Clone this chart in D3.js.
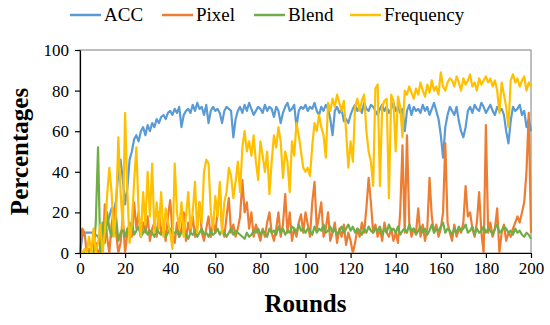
<!DOCTYPE html>
<html>
<head>
<meta charset="utf-8">
<script src="https://cdn.jsdelivr.net/npm/d3@7"></script>
<style>
  body { margin: 0; background: #fff; }
</style>
</head>
<body>
<svg id="chart"></svg>
<script>
const width = 550,
  height = 325;

// values, one per round (0..200)
const acc = [
  0, 8, 10, 10, 10, 10, 10, 9, 8, 9,
  10, 12, 14, 18, 22, 20, 26, 40, 46, 36,
  24, 32, 46, 50, 56, 58, 55, 60, 62, 58,
  63, 60, 64, 62, 66, 64, 67, 68, 66, 69,
  70, 68, 71, 69, 72, 62, 68, 70, 71, 69,
  73, 70, 74, 71, 72, 68, 73, 64, 70, 72,
  70, 71, 69, 64, 70, 72, 71, 70, 57, 66,
  70, 72, 69, 73, 70, 74, 71, 68, 70, 72,
  71, 69, 73, 70, 72, 71, 67, 72, 70, 64,
  69, 72, 74, 70, 71, 73, 62, 70, 72, 71,
  73, 70, 72, 71, 74, 70, 68, 72, 70, 73,
  71, 66, 58, 70, 72, 69, 71, 65, 66, 64,
  68, 71, 73, 70, 72, 69, 74, 71, 70, 73,
  72, 70, 68, 71, 73, 70, 72, 69, 71, 74,
  70, 72, 69, 71, 60, 70, 73, 68, 72, 70,
  71, 69, 73, 70, 72, 68, 71, 74, 70, 66,
  58, 47, 62, 68, 72, 70, 68, 72, 65, 60,
  57, 62, 70, 72, 69, 73, 71, 70, 74, 72,
  69, 71, 73, 70, 68, 72, 70, 71, 68, 60,
  54, 65, 72, 70, 71, 73, 68, 70, 62, 66,
  60
];
const pixel = [
  0, 12, 10, 0, 2, 0, 0, 5, 0, 2,
  0, 24, 8, 0, 14, 22, 10, 0, 5, 18,
  0, 10, 15, 8, 25, 12, 20, 8, 15, 10,
  18, 6, 12, 15, 8, 20, 10, 14, 6, 18,
  26, 10, 5, 15, 8, 12, 20, 6, 15, 10,
  18, 8, 14, 25, 10, 6, 12, 18, 8, 15,
  10, 20, 32, 12, 8, 18, 27, 10, 14, 8,
  12, 18, 36, 20, 25, 12, 20, 8, 14, 10,
  6, 12, 8, 15, 20, 10, 6, 12, 20, 8,
  14, 29, 10, 20, 6, 12, 8, 15, 19, 10,
  20, 14, 8, 25, 35, 12, 18, 25, 8, 12,
  20, 6, 10, 15, 5, 12, 8, 14, 4, 10,
  6, 0, 5, 12, 8, 15, 10, 22, 37, 25,
  10, 14, 8, 12, 6, 15, 10, 8, 12, 6,
  10, 5, 20, 53, 10, 58, 15, 8, 12, 10,
  22, 8, 14, 6, 12, 37, 18, 10, 14, 8,
  12, 20, 54, 15, 10, 6, 14, 8, 12, 10,
  15, 33, 18, 20, 12, 8, 15, 30, 10, 0,
  63, 10, 15, 8, 12, 22, 0, 10, 14, 6,
  10, 8, 12, 15, 18, 15, 20, 25, 40, 69,
  10
];
const blend = [
  0, 0, 0, 0, 0, 0, 0, 15, 52, 0,
  15, 5, 20, 12, 8, 14, 18, 6, 10, 12,
  8, 12, 10, 15, 9, 11, 13, 8, 10, 12,
  9, 11, 10, 8, 12, 10, 9, 11, 8, 10,
  12, 9, 10, 11, 8, 10, 12, 9, 7, 10,
  9, 11, 8, 10, 12, 9, 10, 8, 11, 9,
  10, 12, 9, 11, 10, 8, 10, 12, 9, 11,
  10, 9, 8, 7, 10, 8, 9, 11, 10, 12,
  9, 11, 10, 8, 12, 10, 11, 9, 13, 10,
  12, 9, 11, 10, 13, 12, 10, 14, 11, 12,
  10, 12, 11, 9, 13, 10, 12, 11, 14, 10,
  11, 13, 10, 12, 9, 11, 13, 10, 12, 14,
  11, 13, 10, 12, 11, 9, 12, 10, 13, 11,
  10, 12, 11, 13, 9, 12, 10, 14, 11, 12,
  10, 13, 9, 11, 12, 10, 14, 11, 12, 9,
  11, 13, 10, 12, 9, 11, 14, 10, 12, 11,
  13, 15, 10, 12, 11, 9, 12, 10, 13, 11,
  12, 14, 10, 11, 13, 9, 12, 10, 11, 13,
  10, 12, 11, 9, 12, 14, 10, 11, 13, 12,
  10, 11, 9, 12, 10, 11, 9, 8, 10, 9,
  7
];
const frequency = [
  0, 0, 2, 0, 8, 0, 12, 0, 5, 14,
  0, 10, 28, 42, 30, 8, 20, 57, 30, 12,
  69, 30, 5, 15, 35, 52, 20, 8, 30, 14,
  40, 18, 44, 10, 25, 12, 30, 8, 22, 15,
  10, 2, 44, 20, 12, 25, 8, 18, 30, 12,
  20, 35, 10, 25, 15, 40, 46, 44, 20, 12,
  28, 18, 35, 10, 25, 30, 42, 38, 27, 35,
  45, 30, 52, 60, 50, 55, 48, 58, 45, 36,
  55, 48, 40, 50, 29, 45, 58, 52, 62, 55,
  37, 50, 45, 30, 55, 48, 64, 58, 50, 42,
  40, 42, 38, 53, 64, 60, 68, 62, 58, 47,
  74, 70, 76, 72, 78, 74, 70, 75, 60, 42,
  55, 45, 72, 76, 70, 75, 78, 60, 50, 45,
  33, 81, 83, 33, 72, 75, 76, 27, 78, 75,
  50, 77, 72, 57, 80, 78, 82, 79, 76, 81,
  78, 84, 80, 77, 83, 79, 85, 80, 82, 78,
  89, 82, 80, 84, 86, 85, 82, 87, 84, 80,
  86, 83, 85, 88, 82, 84, 80, 86, 83, 85,
  87, 84, 86, 82, 85, 80, 69, 84, 78, 72,
  62, 85, 88, 84, 86, 82, 85, 87, 80, 84,
  82
];

const seriesNames = ["ACC", "Pixel", "Blend", "Frequency"];
const seriesValues = [acc, pixel, blend, frequency];
const seriesColors = ["#5B9BD5", "#ED7D31", "#70AD47", "#FFC000"];
const xTicks = [0, 20, 40, 60, 80, 100, 120, 140, 160, 180, 200];
const yTicks = [0, 20, 40, 60, 80, 100];

const serif = "Liberation Serif";

const margin = { top: 50, right: 19, bottom: 72, left: 80 };
const innerW = width - margin.left - margin.right,
  innerH = height - margin.top - margin.bottom;

const svg = d3.select("#chart").attr("width", width).attr("height", height);
svg.append("rect").attr("width", width).attr("height", height).attr("fill", "#fff");

const g = svg.append("g").attr("transform", `translate(${margin.left},${margin.top})`);

const x = d3.scaleLinear().domain([0, 200]).range([0, innerW]);
const y = d3.scaleLinear().domain([0, 100]).range([innerH, 0]);

// plot frame (top and right sides)
g.append("rect")
  .attr("width", innerW)
  .attr("height", innerH)
  .attr("fill", "none")
  .attr("stroke", "#7f7f7f")
  .attr("stroke-width", 1);

const line = d3
  .line()
  .x((d, i) => x(i))
  .y((d) => y(d));

seriesValues.forEach((vals, k) => {
  g.append("path")
    .datum(vals)
    .attr("fill", "none")
    .attr("stroke", seriesColors[k])
    .attr("stroke-width", 2.2)
    .attr("stroke-linejoin", "round")
    .attr("d", line);
});

// axes
const xAxis = g
  .append("g")
  .attr("transform", `translate(0,${innerH})`)
  .call(d3.axisBottom(x).tickValues(xTicks).tickSize(5).tickSizeOuter(0).tickPadding(4));
const yAxis = g
  .append("g")
  .call(d3.axisLeft(y).tickValues(yTicks).tickSize(5).tickSizeOuter(0).tickPadding(6));

[xAxis, yAxis].forEach((a) => {
  a.attr("font-family", serif).attr("font-size", 17);
  a.selectAll("path, line").attr("stroke", "#000").attr("stroke-width", 1.2);
  a.selectAll("text").attr("fill", "#000");
});

// axis titles
svg
  .append("text")
  .attr("x", margin.left + innerW / 2)
  .attr("y", 312)
  .attr("text-anchor", "middle")
  .attr("font-family", serif)
  .attr("font-size", 25)
  .attr("font-weight", "bold")
  .text("Rounds");

svg
  .append("text")
  .attr("transform", `translate(28,${margin.top + innerH / 2}) rotate(-90)`)
  .attr("text-anchor", "middle")
  .attr("font-family", serif)
  .attr("font-size", 25)
  .attr("font-weight", "bold")
  .text("Percentages");

// legend
const legendX = [70, 162, 254, 350];
const legend = svg.append("g").attr("font-family", serif).attr("font-size", 19);
seriesNames.forEach((name, k) => {
  legend
    .append("line")
    .attr("x1", legendX[k])
    .attr("x2", legendX[k] + 31)
    .attr("y1", 15)
    .attr("y2", 15)
    .attr("stroke", seriesColors[k])
    .attr("stroke-width", 2.5);
  legend
    .append("text")
    .attr("x", legendX[k] + 34)
    .attr("y", 21)
    .text(name);
});
</script>
</body>
</html>
